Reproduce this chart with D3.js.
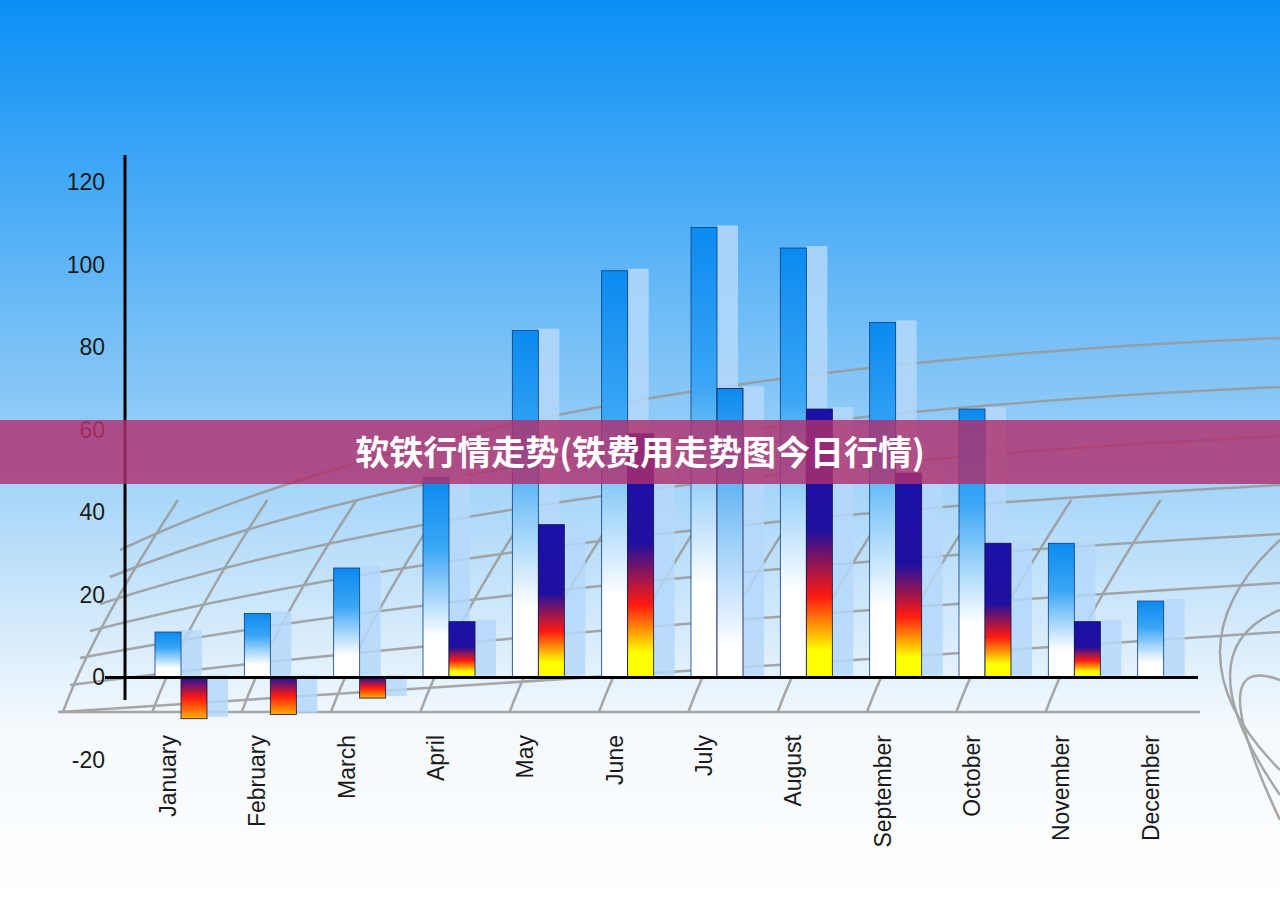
<!DOCTYPE html>
<html><head><meta charset="utf-8">
<script src="https://cdn.jsdelivr.net/npm/d3@7/dist/d3.min.js"></script>
<style>body{margin:0;overflow:hidden}</style></head>
<body><svg id="c" width="1280" height="905"></svg>
<script>
const months=["January","February","March","April","May","June","July","August","September","October","November","December"];
const seriesA=[11,15.5,26.5,48.5,84,98.5,109,104,86,65,32.5,18.5];
const seriesB=[-10,-9,-5,13.5,37,59,70,65,49.5,32.5,13.5,null];
const yTicks=[-20,0,20,40,60,80,100,120];
const title="软铁行情走势(铁费用走势图今日行情)";

const svg=d3.select("#c");
const defs=svg.append("defs");
const bg=defs.append("linearGradient").attr("id","bg").attr("x1",0).attr("y1",0).attr("x2",0).attr("y2",1);
bg.append("stop").attr("offset","0").attr("stop-color","#0a8ff5");
bg.append("stop").attr("offset","0.45").attr("stop-color","#8cc9f7");
bg.append("stop").attr("offset","0.8").attr("stop-color","#f4f9fd");
bg.append("stop").attr("offset","1").attr("stop-color","#ffffff");
const ga=defs.append("linearGradient").attr("id","ga").attr("x1",0).attr("y1",0).attr("x2",0).attr("y2",1);
ga.append("stop").attr("offset","0").attr("stop-color","#0b8af0");
ga.append("stop").attr("offset","0.35").attr("stop-color","#3aa6f5");
ga.append("stop").attr("offset","0.8").attr("stop-color","#ffffff");
const gb=defs.append("linearGradient").attr("id","gb").attr("x1",0).attr("y1",0).attr("x2",0).attr("y2",1);
gb.append("stop").attr("offset","0").attr("stop-color","#1b10a8");
gb.append("stop").attr("offset","0.45").attr("stop-color","#2010a0");
gb.append("stop").attr("offset","0.7").attr("stop-color","#ff1a10");
gb.append("stop").attr("offset","0.9").attr("stop-color","#ffff00");
const gn=defs.append("linearGradient").attr("id","gn").attr("x1",0).attr("y1",0).attr("x2",0).attr("y2",1);
gn.append("stop").attr("offset","0").attr("stop-color","#2010a0");
gn.append("stop").attr("offset","0.5").attr("stop-color","#ff1a10");
gn.append("stop").attr("offset","1").attr("stop-color","#ffb000");
const gj=defs.append("linearGradient").attr("id","gj").attr("x1",0).attr("y1",0).attr("x2",0).attr("y2",1);
gj.append("stop").attr("offset","0").attr("stop-color","#0b8af0");
gj.append("stop").attr("offset","0.9").attr("stop-color","#ffffff");

svg.append("rect").attr("width",1280).attr("height",905).attr("fill","url(#bg)");

const y=d3.scaleLinear().domain([-20,120]).range([760,182]);
const x=d3.scaleBand().domain(months).range([148,1220]);

// decorative perspective grid (below the banner)
const grid=svg.append("g").attr("fill","none").attr("stroke","#999").attr("stroke-width",2.5).attr("opacity",0.85);
for(let i=0;i<7;i++){
  const y0=712-i*27;
  grid.append("path").attr("d",`M${60+i*10},${y0} Q${500},${y0-30-i*25} 1280,${y0-80-i*22}`);
}
[0,1,2].forEach(i=>{grid.append("path").attr("d",`M1280,${540+i*70} Q${1160+i*20},${650} 1280,${770+i*25}`);});
months.forEach((m,i)=>{const xx=x(m);grid.append("path").attr("d",`M${xx-85},712 Q${xx-55},630 ${xx+30},500`);});
grid.append("line").attr("x1",58).attr("x2",1200).attr("y1",712).attr("y2",712);

const bw=26;
const g=svg.append("g");
months.forEach((m,i)=>{
  const x0=x(m)+7;
  const a=seriesA[i], b=seriesB[i];
  g.append("rect").attr("x",x0+bw).attr("width",bw-5).attr("y",y(a)-2).attr("height",y(0)-y(a)).attr("fill","#b5d8fa").attr("opacity",0.85);
  if(b!=null){const top=Math.min(y(b),y(0)), h=Math.abs(y(b)-y(0));
    g.append("rect").attr("x",x0+2*bw).attr("width",bw-5).attr("y",top-2).attr("height",h).attr("fill","#b5d8fa").attr("opacity",0.85);}
  g.append("rect").attr("x",x0).attr("width",bw).attr("y",y(a)).attr("height",y(0)-y(a)).attr("fill","url(#ga)").attr("stroke","#0a3c80").attr("stroke-width",0.8);
  if(b!=null){
    const top=Math.min(y(b),y(0)), h=Math.abs(y(b)-y(0));
    const fill = m==="July"?"url(#gj)":(b<0?"url(#gn)":"url(#gb)");
    g.append("rect").attr("x",x0+bw).attr("width",bw).attr("y",top).attr("height",h).attr("fill",fill).attr("stroke","#101040").attr("stroke-width",0.8);
  }
});

svg.append("line").attr("x1",125).attr("x2",125).attr("y1",155).attr("y2",700).attr("stroke","#000").attr("stroke-width",3);
svg.append("line").attr("x1",105).attr("x2",1198).attr("y1",y(0)).attr("y2",y(0)).attr("stroke","#000").attr("stroke-width",3);
svg.append("g").selectAll("text").data(yTicks).join("text").attr("x",105).attr("y",d=>y(d)).attr("dy","0.35em")
  .attr("text-anchor","end").attr("font-family","Liberation Sans, Arial").attr("font-size",23).attr("fill",d=>d===60?"#6a1030":"#1a1a1a").text(d=>d);
svg.append("g").selectAll("text").data(months).join("text")
  .attr("transform",m=>`translate(${x(m)+7+bw/2+8},735) rotate(-90)`).attr("text-anchor","end")
  .attr("font-family","Liberation Sans, Arial").attr("font-size",23).attr("fill","#1a1a1a").text(m=>m);

svg.append("rect").attr("x",0).attr("y",420).attr("width",1280).attr("height",64).attr("fill","#b0306e").attr("opacity",0.82);
svg.append("text").attr("x",640).attr("y",453).attr("dy","0.35em").attr("text-anchor","middle")
  .attr("font-family","Noto Sans CJK SC").attr("font-weight","bold").attr("font-size",34).attr("fill","#fff").text(title);
</script></body></html>
